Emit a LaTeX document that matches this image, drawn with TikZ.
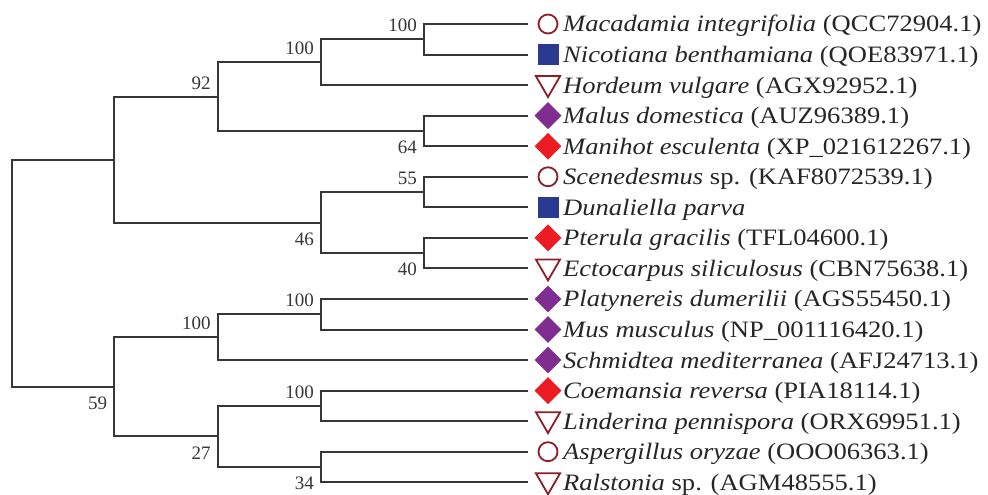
\documentclass[tikz,border=0pt]{standalone}
\usepackage{fontspec}
\setmainfont{Liberation Serif}
\newfontfamily\taxfont{Liberation Serif}[FakeStretch=1.13]
\usetikzlibrary{shapes.geometric,positioning}
\definecolor{TGray}{RGB}{55,55,55}
\definecolor{RRing}{RGB}{140,30,40}
\definecolor{BNavy}{RGB}{43,57,144}
\definecolor{PPurple}{RGB}{128,45,145}
\definecolor{RRed}{RGB}{237,28,36}

\begin{document}
\begin{tikzpicture}[
    x=1pt, y=-1pt,
    branch/.style={draw=TGray, line width=2pt},
    boot/.style={font=\fontsize{19}{19}\selectfont, inner sep=0pt, text=TGray},
    upboot/.style={boot, anchor=south east, xshift=-7pt, yshift=7pt},
    dnboot/.style={boot, anchor=north east, xshift=-7pt, yshift=-10pt},
    taxon/.style={anchor=west, inner sep=0pt, text height=17pt, text depth=1pt,
      font=\taxfont\fontsize{23.5}{23.5}\selectfont, text=black!85},
    ring/.style={circle, draw=RRing, line width=1.8pt, minimum size=19pt, inner sep=0pt},
    sq/.style={rectangle, fill=BNavy, minimum size=21pt, inner sep=0pt},
    tri/.style={regular polygon, regular polygon sides=3, shape border rotate=180,
      draw=RRing, line width=1.8pt, minimum size=28pt, inner sep=0pt, yshift=2pt},
    pdia/.style={diamond, fill=PPurple, minimum width=27pt, minimum height=27pt, inner sep=0pt},
    rdia/.style={diamond, fill=RRed, minimum width=27pt, minimum height=27pt, inner sep=0pt}
  ]
    \useasboundingbox (0,0) rectangle (988,495);

    % leaves
    \coordinate (l1) at (528,24);
    \coordinate (l2) at (528,54.55);
    \coordinate (l3) at (528,85.1);
    \coordinate (l4) at (528,115.65);
    \coordinate (l5) at (528,146.2);
    \coordinate (l6) at (528,176.75);
    \coordinate (l7) at (528,207.3);
    \coordinate (l8) at (528,237.85);
    \coordinate (l9) at (528,268.4);
    \coordinate (l10) at (528,298.95);
    \coordinate (l11) at (528,329.5);
    \coordinate (l12) at (528,360.05);
    \coordinate (l13) at (528,390.6);
    \coordinate (l14) at (528,421.15);
    \coordinate (l15) at (528,451.7);
    \coordinate (l16) at (528,482.25);

    \node[ring] (s1) at (548,24) {};
    \node[sq] (s2) at (548,54.55) {};
    \node[tri] (s3) at (548,85.1) {};
    \node[pdia] (s4) at (548,115.65) {};
    \node[rdia] (s5) at (548,146.2) {};
    \node[ring] (s6) at (548,176.75) {};
    \node[sq] (s7) at (548,207.3) {};
    \node[rdia] (s8) at (548,237.85) {};
    \node[tri] (s9) at (548,268.4) {};
    \node[pdia] (s10) at (548,298.95) {};
    \node[pdia] (s11) at (548,329.5) {};
    \node[pdia] (s12) at (548,360.05) {};
    \node[rdia] (s13) at (548,390.6) {};
    \node[tri] (s14) at (548,421.15) {};
    \node[ring] (s15) at (548,451.7) {};
    \node[tri] (s16) at (548,482.25) {};

    \node[taxon] (t1) at (563,24) {\textit{Macadamia integrifolia} (QCC72904.1)};
    \node[taxon] (t2) at (563,54.55) {\textit{Nicotiana benthamiana} (QOE83971.1)};
    \node[taxon] (t3) at (563,85.1) {\textit{Hordeum vulgare} (AGX92952.1)};
    \node[taxon] (t4) at (563,115.65) {\textit{Malus domestica} (AUZ96389.1)};
    \node[taxon] (t5) at (563,146.2) {\textit{Manihot esculenta} (XP\_021612267.1)};
    \node[taxon] (t6) at (563,176.75) {\textit{Scenedesmus} sp. (KAF8072539.1)};
    \node[taxon] (t7) at (563,207.3) {\textit{Dunaliella parva}};
    \node[taxon] (t8) at (563,237.85) {\textit{Pterula gracilis} (TFL04600.1)};
    \node[taxon] (t9) at (563,268.4) {\textit{Ectocarpus siliculosus} (CBN75638.1)};
    \node[taxon] (t10) at (563,298.95) {\textit{Platynereis dumerilii} (AGS55450.1)};
    \node[taxon] (t11) at (563,329.5) {\textit{Mus musculus} (NP\_001116420.1)};
    \node[taxon] (t12) at (563,360.05) {\textit{Schmidtea mediterranea} (AFJ24713.1)};
    \node[taxon] (t13) at (563,390.6) {\textit{Coemansia reversa} (PIA18114.1)};
    \node[taxon] (t14) at (563,421.15) {\textit{Linderina pennispora} (ORX69951.1)};
    \node[taxon] (t15) at (563,451.7) {\textit{Aspergillus oryzae} (OOO06363.1)};
    \node[taxon] (t16) at (563,482.25) {\textit{Ralstonia} sp. (AGM48555.1)};

    % internal nodes
    \coordinate (root) at (12,273.17);
    \coordinate (n1) at (114.3,159.57);
    \coordinate (n2) at (114.3,386.78);
    \coordinate (n3) at (217.7,96.56);
    \coordinate (n4) at (321,222.58);
    \coordinate (n5) at (321,62.19);
    \coordinate (n6) at (424,130.93);
    \coordinate (n7) at (424,39.28);
    \coordinate (n8) at (424,192.03);
    \coordinate (n9) at (424,253.13);
    \coordinate (n10) at (217.7,337.14);
    \coordinate (n11) at (217.7,436.43);
    \coordinate (n12) at (321,314.23);
    \coordinate (n13) at (321,405.88);
    \coordinate (n14) at (321,466.98);

    % branches
    \draw[branch] (root) |- (n1);
    \draw[branch] (root) |- (n2);
    \draw[branch] (n1) |- (n3);
    \draw[branch] (n1) |- (n4);
    \draw[branch] (n3) |- (n5);
    \draw[branch] (n3) |- (n6);
    \draw[branch] (n5) |- (n7);
    \draw[branch] (n5) |- (l3);
    \draw[branch] (n7) |- (l1);
    \draw[branch] (n7) |- (l2);
    \draw[branch] (n6) |- (l4);
    \draw[branch] (n6) |- (l5);
    \draw[branch] (n4) |- (n8);
    \draw[branch] (n4) |- (n9);
    \draw[branch] (n8) |- (l6);
    \draw[branch] (n8) |- (l7);
    \draw[branch] (n9) |- (l8);
    \draw[branch] (n9) |- (l9);
    \draw[branch] (n2) |- (n10);
    \draw[branch] (n2) |- (n11);
    \draw[branch] (n10) |- (n12);
    \draw[branch] (n10) |- (l12);
    \draw[branch] (n12) |- (l10);
    \draw[branch] (n12) |- (l11);
    \draw[branch] (n11) |- (n13);
    \draw[branch] (n11) |- (n14);
    \draw[branch] (n13) |- (l13);
    \draw[branch] (n13) |- (l14);
    \draw[branch] (n14) |- (l15);
    \draw[branch] (n14) |- (l16);

    % bootstrap values
    \node[upboot] (b1) at (n3) {92};
    \node[upboot] (b2) at (n5) {100};
    \node[upboot] (b3) at (n7) {100};
    \node[dnboot] (b4) at (n6) {64};
    \node[upboot] (b5) at (n8) {55};
    \node[dnboot] (b6) at (n4) {46};
    \node[dnboot] (b7) at (n9) {40};
    \node[upboot] (b8) at (n12) {100};
    \node[upboot] (b9) at (n10) {100};
    \node[dnboot] (b10) at (n2) {59};
    \node[upboot] (b11) at (n13) {100};
    \node[dnboot] (b12) at (n11) {27};
    \node[dnboot] (b13) at (n14) {34};
  \end{tikzpicture}
\end{document}
